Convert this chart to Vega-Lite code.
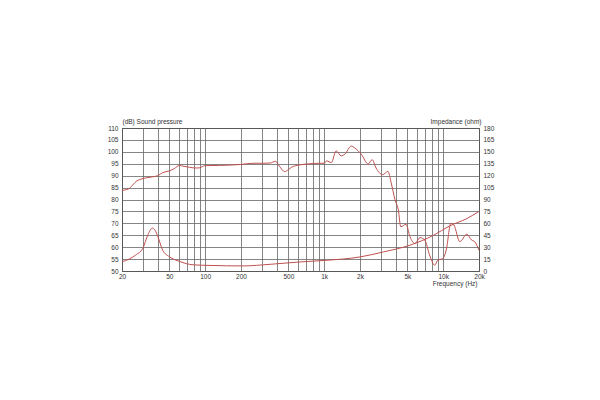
{
  "$schema": "https://vega.github.io/schema/vega-lite/v6.json",
  "autosize": "none",
  "width": 357,
  "height": 143,
  "padding": {"left": 122, "top": 128, "right": 121, "bottom": 129},
  "background": "white",
  "config": {
    "view": {"stroke": "#222", "strokeWidth": 1},
    "font": "Liberation Sans",
    "axis": {"labelFont": "Liberation Sans", "titleFont": "Liberation Sans", "labelFontSize": 6.5, "titleFontSize": 6.5, "labelColor": "#333", "titleColor": "#333", "titleFontWeight": "normal", "gridColor": "#666", "gridWidth": 0.8, "gridOpacity": 1, "domain": false, "ticks": false}
  },
  "datasets": {
    "spl": [
      {"f": 20, "db": 83.8}, {"f": 22, "db": 84.2}, {"f": 23, "db": 84.6}, {"f": 25, "db": 86.5}, {"f": 26.5, "db": 87.7}, {"f": 28, "db": 88.3}, {"f": 30, "db": 88.8}, {"f": 33, "db": 89.2}, {"f": 36, "db": 89.5}, {"f": 40, "db": 90}, {"f": 44, "db": 91.3}, {"f": 50, "db": 92}, {"f": 55, "db": 93}, {"f": 61, "db": 94.3}, {"f": 65, "db": 94}, {"f": 74, "db": 93.5}, {"f": 84, "db": 93.2}, {"f": 90, "db": 93.3}, {"f": 99, "db": 94.2}, {"f": 132, "db": 94.3}, {"f": 200, "db": 94.7}, {"f": 252, "db": 95.2}, {"f": 306, "db": 95.2}, {"f": 350, "db": 95.3}, {"f": 390, "db": 96}, {"f": 420, "db": 94}, {"f": 466, "db": 91.7}, {"f": 500, "db": 92.5}, {"f": 530, "db": 93.5}, {"f": 620, "db": 94.5}, {"f": 760, "db": 95}, {"f": 918, "db": 95.2}, {"f": 1000, "db": 95.2}, {"f": 1050, "db": 96.2}, {"f": 1150, "db": 95.5}, {"f": 1260, "db": 100.4}, {"f": 1390, "db": 98.3}, {"f": 1490, "db": 99}, {"f": 1690, "db": 102.4}, {"f": 1820, "db": 101.5}, {"f": 2050, "db": 99}, {"f": 2340, "db": 94.9}, {"f": 2530, "db": 96.7}, {"f": 2730, "db": 93.2}, {"f": 3100, "db": 90.4}, {"f": 3430, "db": 91.8}, {"f": 3660, "db": 86.9}, {"f": 3930, "db": 80}, {"f": 4200, "db": 75.6}, {"f": 4400, "db": 68.6}, {"f": 4870, "db": 69.6}, {"f": 5260, "db": 64.4}, {"f": 5800, "db": 61.5}, {"f": 6380, "db": 64}, {"f": 7000, "db": 63}, {"f": 7700, "db": 56.6}, {"f": 8500, "db": 52.4}, {"f": 9000, "db": 54.5}, {"f": 9900, "db": 55.2}, {"f": 10600, "db": 58.7}, {"f": 11600, "db": 70}, {"f": 12300, "db": 69.3}, {"f": 13800, "db": 62.3}, {"f": 15800, "db": 65.4}, {"f": 17300, "db": 63}, {"f": 18400, "db": 62.3}, {"f": 20000, "db": 58.7}
    ],
    "imp": [
      {"f": 20, "z": 11.7}, {"f": 23, "z": 15}, {"f": 26, "z": 20}, {"f": 30, "z": 28.8}, {"f": 33, "z": 45.6}, {"f": 36, "z": 54}, {"f": 38, "z": 51}, {"f": 40, "z": 43.5}, {"f": 44, "z": 26}, {"f": 50, "z": 18}, {"f": 61, "z": 12}, {"f": 79, "z": 7.8}, {"f": 110, "z": 7}, {"f": 208, "z": 6.4}, {"f": 350, "z": 8.4}, {"f": 624, "z": 11.4}, {"f": 1050, "z": 13.5}, {"f": 2000, "z": 17.7}, {"f": 3150, "z": 24}, {"f": 5260, "z": 32.5}, {"f": 8300, "z": 45}, {"f": 11300, "z": 56.6}, {"f": 15800, "z": 66}, {"f": 20000, "z": 75}
    ]
  },
  "layer": [
    {
      "data": {"name": "spl"},
      "mark": {"type": "line", "color": "#c05050", "strokeWidth": 1, "interpolate": "monotone", "clip": true},
      "encoding": {
        "x": {"field": "f", "type": "quantitative", "scale": {"type": "log", "domain": [20, 20000], "nice": false},
          "axis": {"orient": "bottom", "values": [20,30,40,50,60,70,80,90,100,200,300,400,500,600,700,800,900,1000,2000,3000,4000,5000,6000,7000,8000,9000,10000,20000],
            "labelExpr": "indexof([20,50,100,200,500,1000,2000,5000,10000,20000], datum.value) >= 0 ? (datum.value >= 1000 ? (datum.value/1000) + 'k' : '' + datum.value) : ''",
            "labelPadding": 2, "labelFlush": false, "labelOverlap": false,
            "title": "Frequency  (Hz)", "titleX": 355, "titleY": 9, "titleAlign": "right", "titleBaseline": "top", "titleAnchor": null}},
        "y": {"field": "db", "type": "quantitative", "scale": {"domain": [50, 110], "nice": false},
          "axis": {"orient": "left", "values": [50,55,60,65,70,75,80,85,90,95,100,105,110], "labelPadding": 4, "labelFlush": false,
            "title": "(dB)   Sound pressure", "titleAngle": 0, "titleX": 0, "titleY": -4, "titleAlign": "left", "titleBaseline": "bottom"}}
      }
    },
    {
      "data": {"name": "imp"},
      "mark": {"type": "line", "color": "#c05050", "strokeWidth": 1, "interpolate": "monotone", "clip": true},
      "encoding": {
        "x": {"field": "f", "type": "quantitative", "scale": {"type": "log", "domain": [20, 20000], "nice": false}},
        "y": {"field": "z", "type": "quantitative", "scale": {"domain": [0, 180], "nice": false},
          "axis": {"orient": "right", "values": [0,15,30,45,60,75,90,105,120,135,150,165,180], "grid": false, "labelPadding": 4, "labelFlush": false,
            "title": "Impedance  (ohm)", "titleAngle": 0, "titleX": 2, "titleY": -4, "titleAlign": "right", "titleBaseline": "bottom"}}
      }
    }
  ],
  "resolve": {"scale": {"y": "independent"}}
}
